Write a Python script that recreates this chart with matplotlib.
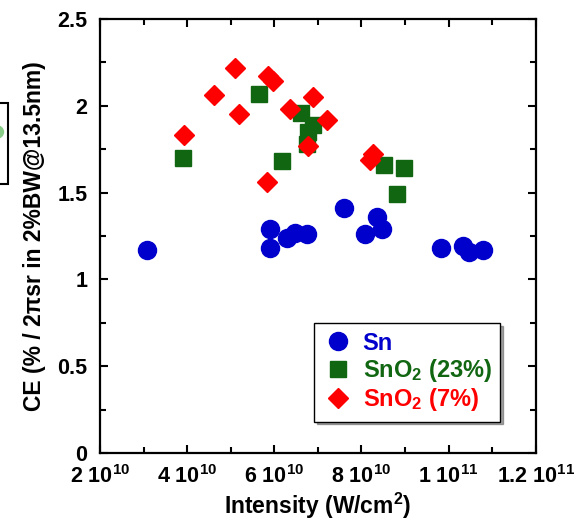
import matplotlib
matplotlib.use("Agg")
import matplotlib.pyplot as plt
from matplotlib.patches import Rectangle, Circle
from matplotlib.ticker import MultipleLocator, FixedLocator

plt.rcParams['font.family'] = ['Liberation Sans', 'DejaVu Sans']
plt.rcParams['font.weight'] = 'bold'
plt.rcParams['mathtext.fontset'] = 'custom'
plt.rcParams['mathtext.rm'] = 'Liberation Sans:bold'
plt.rcParams['mathtext.bf'] = 'Liberation Sans:bold'
plt.rcParams['mathtext.it'] = 'Liberation Sans:bold'

# Sn
sn_x = [3.08e10, 5.9e10, 5.9e10, 6.3e10, 6.47e10, 6.75e10, 7.6e10, 8.08e10,
        8.35e10, 8.47e10, 9.82e10, 1.033e11, 1.047e11, 1.079e11]
sn_y = [1.17, 1.29, 1.18, 1.24, 1.27, 1.26, 1.41, 1.26,
        1.36, 1.29, 1.18, 1.19, 1.155, 1.17]

# SnO2 (23%)
sno23_x = [3.9e10, 5.65e10, 6.17e10, 6.61e10, 6.89e10, 6.77e10, 6.75e10,
           8.51e10, 8.97e10, 8.81e10]
sno23_y = [1.70, 2.07, 1.68, 1.96, 1.89, 1.85, 1.78,
           1.66, 1.64, 1.49]

# SnO2 (7%)
sno7_x = [3.93e10, 4.62e10, 5.1e10, 5.19e10, 5.85e10, 5.97e10, 5.83e10,
          6.36e10, 6.89e10, 7.2e10, 6.77e10, 8.19e10, 8.26e10]
sno7_y = [1.83, 2.06, 2.22, 1.95, 2.17, 2.14, 1.56,
          1.98, 2.05, 1.92, 1.77, 1.69, 1.72]

x_ticks = [2e10, 4e10, 6e10, 8e10, 1e11, 1.2e11]
x_labels = ['2 10$^{10}$', '4 10$^{10}$', '6 10$^{10}$', '8 10$^{10}$',
            '1 10$^{11}$', '1.2 10$^{11}$']
y_ticks = [0, 0.5, 1, 1.5, 2, 2.5]
y_labels = ['0', '0.5', '1', '1.5', '2', '2.5']

fig = plt.figure(figsize=(5.83, 5.23), dpi=100)
ax = fig.add_axes([0.1715, 0.1338, 0.7475, 0.8299])

ax.plot(sn_x, sn_y, 'o', color='#0000cc', markersize=13, linestyle='none',
        label='Sn')
ax.plot(sno23_x, sno23_y, 's', color='#116611', markersize=12,
        linestyle='none', label='SnO$_2$ (23%)')
ax.plot(sno7_x, sno7_y, 'D', color='#ff0000', markersize=10,
        linestyle='none', label='SnO$_2$ (7%)')

ax.set_xlim(2e10, 1.2e11)
ax.set_ylim(0, 2.5)
ax.xaxis.set_major_locator(FixedLocator(x_ticks))
ax.set_xticklabels(x_labels)
ax.xaxis.set_minor_locator(MultipleLocator(1e10))
ax.yaxis.set_major_locator(FixedLocator(y_ticks))
ax.set_yticklabels(y_labels)
ax.yaxis.set_minor_locator(MultipleLocator(0.25))

ax.tick_params(which='both', direction='in', top=True, right=True,
               width=1.5, labelsize=15.5)
ax.tick_params(which='major', length=6)
ax.tick_params(which='minor', length=4)
ax.tick_params(axis='x', pad=9)
ax.tick_params(axis='y', pad=9)
for sp in ax.spines.values():
    sp.set_linewidth(1.6)

ax.set_xlabel('Intensity (W/cm$^2$)', fontsize=16.5, fontweight='bold',
              labelpad=2)
ax.set_ylabel('CE (% / 2\u03c0sr in 2%BW@13.5nm)', fontsize=16.5,
              fontweight='bold', labelpad=8)

leg = ax.legend(loc='lower right', bbox_to_anchor=(0.945, 0.045),
                fontsize=17, frameon=True, fancybox=False, shadow=True,
                edgecolor='black', handletextpad=0.4, borderpad=0.35,
                labelspacing=0.1, handlelength=1.3)
leg.get_frame().set_linewidth(1.0)
for txt, col in zip(leg.get_texts(), ['#0000cc', '#116611', '#ff0000']):
    txt.set_color(col)
    txt.set_fontweight('bold')

# partial box from neighbouring panel at left edge
fig.patches.append(Rectangle((-0.02, 1 - 184 / 523), 0.0337, 81 / 523,
                             transform=fig.transFigure, fill=False,
                             edgecolor='black', linewidth=1.5))
fig.patches.append(Circle((-0.006, 1 - 132 / 523), 0.012,
                          transform=fig.transFigure, color='#88cc88'))

fig.savefig('out.png', dpi=100)
